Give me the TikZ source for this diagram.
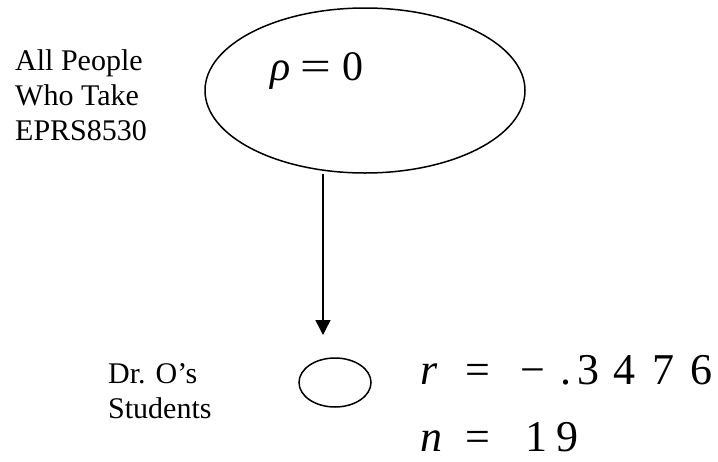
\documentclass[tikz,border=0pt]{standalone}
\usepackage{graphicx}
\usepackage{fontspec}
\setmainfont{Liberation Serif}
\usetikzlibrary{arrows.meta,shapes.geometric}
\newcommand\cbx[2]{\makebox[#1pt][l]{#2}}
\begin{document}
\begin{tikzpicture}[x=1pt,y=-1pt,
  lbl/.style={inner sep=0pt, anchor=base west, font=\fontsize{30}{35}\selectfont, align=left},
  eqbig/.style={inner sep=0pt, anchor=base west, text depth=0pt, font=\fontsize{44}{50}\selectfont},
  eqrho/.style={inner sep=0pt, anchor=base west, font=\fontsize{42}{48}\selectfont},
  oval/.style={draw, ellipse, inner sep=0pt, line width=1.5pt},
  arr/.style={line width=1.4pt, -{Triangle[length=15pt,width=15pt]}}]
\useasboundingbox (0,0) rectangle (718,461);
\node[oval, minimum width=320pt, minimum height=165pt] (pop) at (365,90.5) {};
\node[eqrho] (rho) at (270,80) {\cbx{30}{\textit{ρ}}\cbx{42}{\scalebox{1.3}[1]{=}}0};
% base anchor of a multi-line node is the baseline of its last line
\node[lbl] (all) at (15,140) {All People\\Who Take\\EPRS8530};
\node[oval, minimum width=72pt, minimum height=49pt] (samp) at (335,382.5) {};
\coordinate (tip) at (323,335);
\draw[arr] (tip |- pop.south) -- (tip);
\node[lbl] (dro) at (108,418) {Dr. O’s\\Students};
\node[eqbig] (rval) at (420,384) {\cbx{45}{\textit{r}}\cbx{55}{=}\cbx{40}{−}\cbx{17}{.}\cbx{36}{3}\cbx{39}{4}\cbx{38}{7}6};
\node[eqbig] (nval) at (420,451) {\cbx{45}{\textit{n}}\cbx{60}{=}\cbx{31}{1}9};
\end{tikzpicture}
\end{document}
